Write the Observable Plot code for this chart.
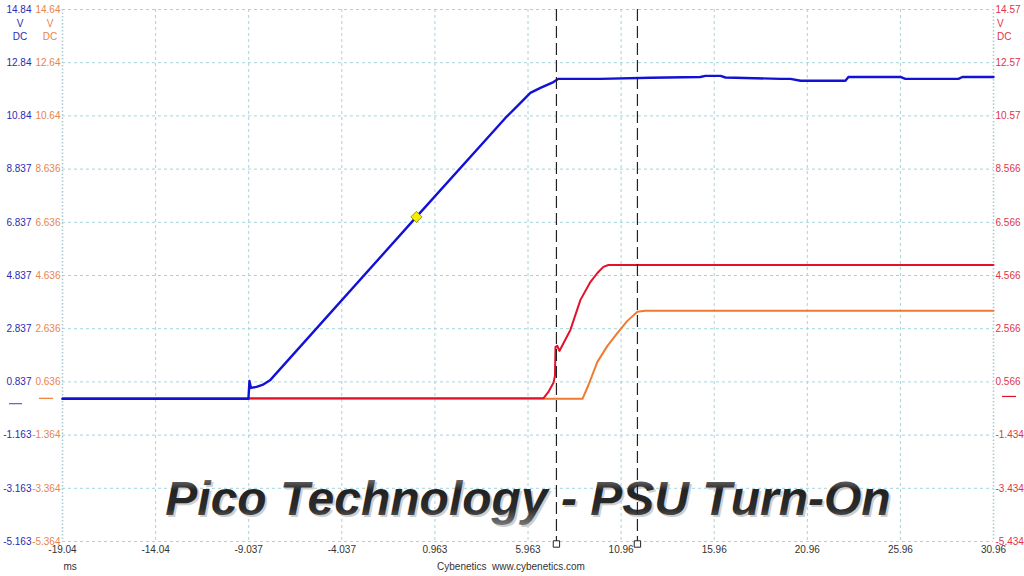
<!DOCTYPE html>
<html><head><meta charset="utf-8">
<script src="https://cdn.jsdelivr.net/npm/d3@7"></script>
<script src="https://cdn.jsdelivr.net/npm/@observablehq/plot@0.6"></script>
<style>body{margin:0;background:#fff;overflow:hidden}</style>
</head><body><div id="chart"></div>
<script>
// ticks (ms) and labels
const xTicks = [-19.037, -14.037, -9.037, -4.037, 0.963, 5.963, 10.963, 15.963, 20.963, 25.963, 30.963];
const xLabels = ["-19.04", "-14.04", "-9.037", "-4.037", "0.963", "5.963", "10.96", "15.96", "20.96", "25.96", "30.96"];
// channel A (blue, left) ticks in volts
const yTicksA = [14.837, 12.837, 10.837, 8.837, 6.837, 4.837, 2.837, 0.837, -1.163, -3.163, -5.163];
const labelsA = ["14.84", "12.84", "10.84", "8.837", "6.837", "4.837", "2.837", "0.837", "-1.163", "-3.163", "-5.163"];
const labelsB = ["14.64", "12.64", "10.64", "8.636", "6.636", "4.636", "2.636", "0.636", "-1.364", "-3.364", "-5.364"];
const labelsC = ["14.57", "12.57", "10.57", "8.566", "6.566", "4.566", "2.566", "0.566", "-1.434", "-3.434", "-5.434"];
// offsets of channels B and C relative to A's scale
const offsetB = 0.201;
const offsetC = 0.271;

// Channel A (blue, 12V rail)
const blueT = [-19.037, -9.051, -8.997, -8.917, -8.62, -8.30, -7.87, -0.03, 4.75, 5.56, 6.09, 6.63, 7.33, 7.60, 9.85, 12.54, 15.22, 15.49, 16.30, 16.57, 19.52, 20.06, 20.60, 23.01, 23.17, 25.96, 26.23, 29.08, 29.29, 30.963];
const blueV = [0.198, 0.198, 0.875, 0.611, 0.649, 0.724, 0.912, 7.04, 10.76, 11.33, 11.70, 11.89, 12.11, 12.23, 12.23, 12.27, 12.30, 12.34, 12.34, 12.28, 12.23, 12.23, 12.16, 12.16, 12.30, 12.30, 12.23, 12.23, 12.30, 12.30];
// Channel B (orange, 3.3V rail)
const orangeT = [-19.037, 8.89, 9.21, 9.69, 10.23, 10.77, 11.30, 11.84, 12.27, 30.963];
const orangeV = [0.0, 0.0, 0.52, 1.39, 1.99, 2.48, 2.93, 3.27, 3.31, 3.31];
// Channel C (red, 5V rail)
const redT = [-19.037, 6.79, 7.06, 7.33, 7.41, 7.44, 7.54, 7.65, 8.24, 8.78, 9.32, 9.69, 10.01, 10.28, 30.963];
const redV = [-0.05, -0.05, 0.19, 0.53, 0.79, 1.88, 1.92, 1.73, 2.52, 3.65, 4.33, 4.66, 4.89, 4.96, 4.96];

const cursors = [7.49, 11.84];
const trigger = [{t: -0.03, v: 7.04}];
const unitLines = ["V", "DC"];
const title = "Pico Technology - PSU Turn-On";

const blue = blueT.map((t, i) => ({t, v: blueV[i]}));
const orange = orangeT.map((t, i) => ({t, v: orangeV[i] + offsetB}));
const red = redT.map((t, i) => ({t, v: redV[i] + offsetC}));

const cBlue = "#1212d6", cBlueTxt = "#2a2ab4";
const cOrange = "#f07a30", cOrangeTxt = "#e8844c";
const cRed = "#e3122a", cRedTxt = "#e0344a";
const grid = "#a3d4dc";
const font = "Liberation Sans, Arial, sans-serif";

const plot = Plot.plot({
  width: 1024, height: 576,
  marginLeft: 62, marginRight: 31, marginTop: 9, marginBottom: 35,
  style: {fontFamily: font, fontSize: "10px", background: "#fff", overflow: "visible"},
  x: {domain: [-19.037, 30.963], axis: null},
  y: {domain: [-5.163, 14.837], axis: null},
  marks: [
    Plot.ruleX(xTicks.slice(1, -1), {x: d => d, stroke: grid, strokeDasharray: "3,3", strokeWidth: 1}),
    Plot.ruleY(yTicksA, {y: d => d, stroke: grid, strokeDasharray: "3,3", strokeWidth: 1}),
    Plot.ruleX([xTicks[0], xTicks[xTicks.length - 1]], {x: d => d, stroke: "#a9c8d0", strokeDasharray: "1.5,2", strokeWidth: 1.5}),
    // title with soft shadow
    Plot.text([title], {frameAnchor: "bottom", text: d => d, dy: -25, dx: 2, fontSize: 48, fontStyle: "italic", fontWeight: "bold", fontFamily: font, fill: "#cfcfcf"}),
    Plot.text([title], {frameAnchor: "bottom", text: d => d, dy: -26.5, fontSize: 48, fontStyle: "italic", fontWeight: "bold", fontFamily: font, fill: "url(#titleGrad)"}),
    // traces
    Plot.line(orange, {x: "t", y: "v", stroke: cOrange, strokeWidth: 2}),
    Plot.line(red, {x: "t", y: "v", stroke: cRed, strokeWidth: 2}),
    Plot.line(blue, {x: "t", y: "v", stroke: cBlue, strokeWidth: 2.4}),
    // cursors
    Plot.ruleX(cursors, {x: d => d, stroke: "#222", strokeDasharray: "12,5", strokeWidth: 1.2}),
    Plot.dot(cursors, {x: d => d, frameAnchor: "bottom", dy: 2.5, symbol: "square", r: 3.6, fill: "white", stroke: "#222", strokeWidth: 1}),
    Plot.dot(trigger, {x: "t", y: "v", symbol: "diamond2", r: 5, fill: "#f5ee00", stroke: "#8a8000", strokeWidth: 0.8}),
    // left axis (A, blue) and (B, orange), right axis (C, red)
    Plot.text(yTicksA, {y: d => d, text: labelsA, frameAnchor: "left", dx: -31, textAnchor: "end", fill: cBlueTxt}),
    Plot.text(yTicksA, {y: d => d, text: labelsB, frameAnchor: "left", dx: -2, textAnchor: "end", fill: cOrangeTxt}),
    Plot.text(yTicksA, {y: d => d, text: labelsC, frameAnchor: "right", dx: 2, textAnchor: "start", fill: cRedTxt}),
    // unit labels
    Plot.text(unitLines, {text: d => d, frameAnchor: "top-left", dx: -42, dy: (d, i) => 0, fill: cBlueTxt, filter: () => false}),
    // x axis labels
    Plot.text(xTicks, {x: d => d, text: xLabels, frameAnchor: "bottom", dy: 11, fill: "#333"}),
    Plot.text(["ms"], {text: d => d, frameAnchor: "bottom-left", dx: 1, dy: 28, textAnchor: "start", fill: "#333"}),
    Plot.text(["Cybenetics\u00a0\u00a0www.cybenetics.com"], {text: d => d, frameAnchor: "bottom", dx: -17, dy: 28, fill: "#333"})
  ]
});

const svg = d3.select(plot);
const y = plot.scale("y");
// unit labels under top tick labels
function unit(x, anchor, color) {
  unitLines.forEach((s, i) => {
    svg.append("text").attr("x", x).attr("y", 24 + i * 13).attr("dy", "0.32em")
      .attr("text-anchor", anchor).attr("fill", color).text(s);
  });
}
unit(20, "middle", cBlueTxt);
unit(50, "middle", cOrangeTxt);
unit(997, "start", cRedTxt);
// zero-level markers in the margins
function zeroMark(v, x1, x2, color) {
  const py = y.apply(v);
  svg.append("line").attr("x1", x1).attr("x2", x2).attr("y1", py).attr("y2", py)
    .attr("stroke", color).attr("stroke-width", 1.2);
}
zeroMark(0, 9, 22, "#5a5ae0");
zeroMark(offsetB, 39, 53, cOrange);
zeroMark(offsetC, 1002, 1016, cRed);

const defs = svg.insert("defs", ":first-child");
const g = defs.append("linearGradient").attr("id", "titleGrad").attr("x1", 0).attr("y1", 0).attr("x2", 0).attr("y2", 1);
g.append("stop").attr("offset", "0%").attr("stop-color", "#9a9a9a");
g.append("stop").attr("offset", "35%").attr("stop-color", "#222");
g.append("stop").attr("offset", "70%").attr("stop-color", "#2c2c2c");
g.append("stop").attr("offset", "100%").attr("stop-color", "#777");
document.getElementById("chart").appendChild(plot);
</script>
</body></html>
